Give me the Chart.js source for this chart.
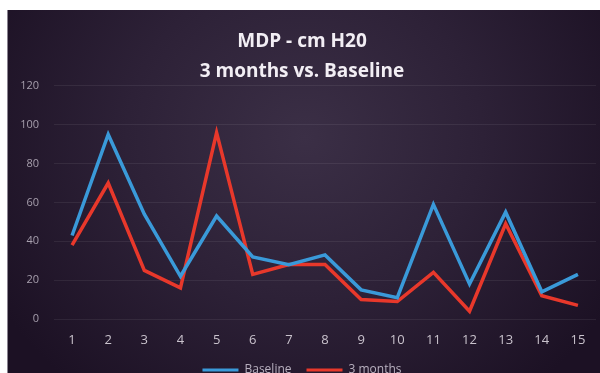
<!DOCTYPE html>
<html>
<head>
<meta charset="utf-8">
<script src="https://cdn.jsdelivr.net/npm/chart.js@4"></script>
<style>
  body { margin: 0; background: #fff; }
  #frame {
    position: absolute; left: 7px; top: 10px; width: 593px; height: 363px; overflow: hidden;
    background: radial-gradient(ellipse 60% 90% at 50% 35%, #3b2f46 0%, #2d2137 50%, #1c1124 100%);
    border-left: 1px solid #8a8390;
  }
  #wrap { position: absolute; left: 0; top: 0; width: 593px; height: 376px; }
</style>
</head>
<body>
<div id="frame"><div id="wrap"><canvas id="lineChart"></canvas></div></div>
<script>
// values
const labels = ["1", "2", "3", "4", "5", "6", "7", "8", "9", "10", "11", "12", "13", "14", "15"];
const baseline = [43, 95, 54, 22, 53, 32, 28, 33, 15, 11, 59, 18, 55, 14, 23];
const threeMonths = [38, 70, 25, 16, 96, 23, 28, 28, 10, 9, 24, 4, 49, 12, 7];
const yTicks = [0, 20, 40, 60, 80, 100, 120];

const ctx = document.getElementById('lineChart').getContext('2d');
const myChart = new Chart(ctx, {
	type: "line",
	data: {
		labels: labels,
		datasets: [
			{
				label: "Baseline",
				data: baseline,
				borderColor: "#3a9ad9",
				backgroundColor: "#3a9ad9",
				borderWidth: 3.5,
				pointRadius: 0,
				tension: 0,
			},
			{
				label: "3 months",
				data: threeMonths,
				borderColor: "#e8382b",
				backgroundColor: "#e8382b",
				borderWidth: 3.5,
				pointRadius: 0,
				tension: 0,
			},
		],
	},
	options: {
		responsive: true,
		maintainAspectRatio: false,
		animation: false,
		layout: {
			padding: { left: 0, right: 5, top: 17, bottom: 0 }
		},
		plugins: {
			title: {
				display: true,
				text: ["MDP - cm H20", "3 months vs. Baseline"],
				color: "#f2eef4",
				font: { family: "'Open Sans', sans-serif", size: 19, weight: "bold", lineHeight: 1.55 },
				padding: { top: 0, bottom: 0 },
			},
			legend: {
				position: "bottom",
				labels: {
					color: "#b8b0bf",
					font: { family: "'Open Sans', sans-serif", size: 12 },
					boxWidth: 36,
					boxHeight: 3,
					padding: 15,
					generateLabels: (chart) => {
						const items = Chart.defaults.plugins.legend.labels.generateLabels(chart);
						items.forEach(it => { it.lineWidth = 0; });
						return items;
					}
				}
			},
			tooltip: { enabled: false }
		},
		scales: {
			x: {
				offset: true,
				afterFit: (axis) => { axis.height = 30; },
				grid: { display: false, drawTicks: false },
				border: { display: false },
				ticks: {
					color: "#c9c2cc",
					font: { family: "'Open Sans', sans-serif", size: 13 },
					padding: 13,
					maxRotation: 0,
				}
			},
			y: {
				min: 0,
				max: 120,
				afterFit: (axis) => { axis.width = 46; },
				afterBuildTicks: (axis) => { axis.ticks = yTicks.map(v => ({ value: v })); },
				grid: { color: "rgba(255,255,255,0.07)", drawTicks: false },
				border: { display: false },
				ticks: {
					color: "#a79fad",
					font: { family: "'Open Sans', sans-serif", size: 11 },
					padding: 15,
				}
			}
		}
	}
});
</script>
</body>
</html>
